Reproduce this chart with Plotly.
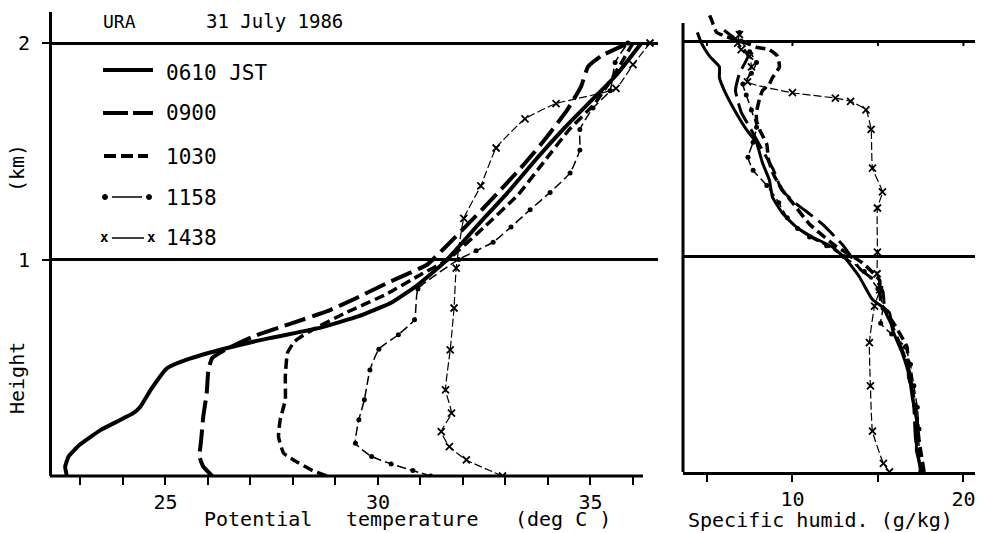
import plotly.graph_objects as go

W, H = 983, 533
FONT = "DejaVu Sans Mono"

# ---- Potential temperature (deg C) against height (km), URA 31 July 1986 ----
z_0610 = [0, 0.043, 0.09, 0.144, 0.213, 0.29, 0.32, 0.40, 0.498, 0.537, 0.59, 0.637,
          0.684, 0.738, 0.80, 0.877, 0.99, 1.17, 1.32, 1.47, 1.61, 1.75, 1.85, 2.0]
th_0610 = [22.68, 22.64, 22.72, 22.98, 23.48, 24.24, 24.41, 24.66, 25.04, 25.5, 26.43, 27.45,
           28.63, 29.55, 30.31, 30.9, 31.58, 32.4, 33.1, 33.75, 34.4, 35.1, 35.6, 36.2]

z_0900 = [0, 0.043, 0.09, 0.167, 0.275, 0.383, 0.49, 0.545, 0.586, 0.648, 0.704, 0.76,
          0.82, 0.90, 0.977, 1.06, 1.2, 1.335, 1.445, 1.56, 1.69, 1.80, 1.89, 1.94, 2.0]
th_0900 = [26.10, 25.89, 25.80, 25.84, 25.89, 25.97, 26.01, 26.10, 26.43, 27.11, 27.95, 28.79,
           29.47, 30.31, 31.16, 31.6, 32.3, 32.95, 33.46, 33.95, 34.45, 34.78, 34.94, 35.25, 35.9]

z_1030 = [0, 0.025, 0.062, 0.105, 0.182, 0.26, 0.352, 0.46, 0.568, 0.622, 0.676, 0.75,
          0.84, 0.93, 1.0, 1.15, 1.3, 1.45, 1.6, 1.72, 1.82, 1.9, 2.0]
th_1030 = [28.79, 28.46, 28.12, 27.78, 27.66, 27.70, 27.82, 27.82, 27.87, 28.04, 28.46, 29.2,
           30.2, 31.0, 31.65, 32.5, 33.3, 33.9, 34.5, 35.1, 35.45, 35.7, 36.0]

z_1158 = [0, 0.025, 0.056, 0.09, 0.151, 0.26, 0.352, 0.49, 0.586, 0.653, 0.722, 0.864,
          1.0, 1.04, 1.08, 1.15, 1.23, 1.31, 1.40, 1.506, 1.60, 1.70, 1.78, 1.91, 2.0]
th_1158 = [31.24, 30.82, 30.31, 29.85, 29.47, 29.55, 29.68, 29.81, 30.02, 30.48, 30.86, 30.94,
           31.9, 32.31, 32.71, 33.13, 33.58, 34.05, 34.52, 34.75, 34.75, 35.06, 35.46, 35.58, 35.88]

z_1438 = [0, 0.074, 0.136, 0.205, 0.29, 0.398, 0.583, 0.776, 0.96, 1.19, 1.34, 1.515,
          1.65, 1.72, 1.79, 1.9, 2.0]
th_1438 = [32.93, 32.08, 31.68, 31.49, 31.73, 31.59, 31.70, 31.79, 31.84, 32.02, 32.42, 32.78,
           33.46, 34.19, 35.6, 36.0, 36.4]

# ---- Specific humidity (g/kg) against height (km) ----
hq_0610 = [0, 0.10, 0.22, 0.35, 0.44, 0.55, 0.66, 0.74, 0.80, 0.905, 0.985, 1.044, 1.09,
           1.137, 1.20, 1.276, 1.355, 1.434, 1.527, 1.59, 1.68, 1.77, 1.83, 1.88, 1.93, 1.99, 2.04]
q_0610 = [17.6, 17.25, 17.3, 17.0, 16.84, 16.43, 15.85, 15.67, 14.68, 13.92, 13.16, 12.34, 11.17,
          10.23, 9.42, 8.83, 8.65, 8.25, 7.9, 7.3, 6.61, 6.02, 5.73, 5.73, 5.15, 4.68, 4.44]

hq_0900 = [0, 0.15, 0.3, 0.45, 0.55, 0.65, 0.75, 0.835, 0.88, 0.94, 1.05, 1.15, 1.21, 1.245,
           1.31, 1.4, 1.5, 1.6, 1.67, 1.77, 1.85, 1.93, 2.0, 2.05]
q_0900 = [17.5, 17.2, 17.1, 16.9, 16.5, 16.0, 15.4, 15.3, 14.97, 13.97, 12.98, 11.75, 10.8, 10.2,
          9.36, 8.9, 8.2, 7.5, 7.0, 6.67, 6.9, 7.4, 6.8, 6.0]

hq_1030 = [0, 0.15, 0.3, 0.38, 0.44, 0.52, 0.58, 0.68, 0.78, 0.845, 0.89, 0.97, 1.05, 1.15,
           1.25, 1.31, 1.38, 1.45, 1.52, 1.59, 1.63, 1.67, 1.73, 1.77, 1.80, 1.83, 1.88, 1.93,
           1.96, 1.97, 1.99, 2.02, 2.04, 2.1, 2.12]
q_1030 = [17.7, 17.4, 17.2, 17.0, 16.8, 16.75, 16.7, 16.0, 15.2, 15.1, 15.1, 14.1, 12.5, 11.0,
          10.0, 9.4, 8.9, 8.6, 8.5, 8.07, 7.9, 7.9, 8.07, 8.25, 8.65, 8.83, 9.24, 9.12,
          8.65, 7.96, 7.3, 6.14, 5.56, 5.26, 5.15]

hq_1158 = [0, 0.1, 0.2, 0.3, 0.4, 0.5, 0.58, 0.64, 0.69, 0.76, 0.85, 0.93, 1.0, 1.05, 1.09,
           1.13, 1.18, 1.25, 1.33, 1.40, 1.46, 1.53, 1.6, 1.68, 1.75, 1.8, 1.85, 1.9, 1.95, 2.0, 2.04]
q_1158 = [17.5, 17.4, 17.4, 17.3, 17.1, 16.9, 16.6, 15.8, 15.16, 15.3, 15.0, 14.2, 13.0, 12.0, 11.0,
          10.3, 9.7, 9.2, 8.5, 7.7, 7.4, 7.7, 7.9, 7.6, 7.3, 7.1, 7.6, 7.9, 7.5, 7.0, 6.9]

hq_1438 = [0, 0.04, 0.19, 0.40, 0.60, 0.77, 0.845, 0.92, 1.02, 1.225, 1.30, 1.41, 1.59, 1.68,
           1.72, 1.735, 1.76, 1.81, 1.88, 1.93, 1.96, 1.99, 2.03]
q_1438 = [15.67, 15.32, 14.68, 14.56, 14.5, 14.8, 15.1, 14.95, 14.97, 14.97, 15.26, 14.68, 14.6,
          14.3, 13.4, 12.51, 10.0, 7.37, 7.6, 7.49, 7.0, 6.8, 6.9]

theta_ticks = list(range(23, 37))
theta_labels = [str(t) if t % 5 == 0 else "" for t in theta_ticks]
q_ticks = [5, 10, 15, 20]
q_labels = ["", "10", "", "20"]
height_ticks = [1, 2]
height_labels = ["1", "2"]

times = ["0610 JST", "0900", "1030", "1158", "1438"]

# ---- pixel frame of the two panels ----
L_X0, L_X1 = 52, 658        # left panel plotting area (px)
L_Y0, L_Y1 = 476, 12        # bottom / top (px)
TH0, TH_PX = 22.33, 42.5    # theta at left edge, px per degree
KM_PX_L = 216.5
R_X0, R_X1 = 683, 975
R_Y0, R_Y1 = 472, 15
Q0, Q_PX = 3.6, 17.1
KM_PX_R = 215.5


def px(x):
    return x / W


def py(y):
    return 1 - y / H


line_styles = {
    "0610 JST": dict(width=4, dash="solid"),
    "0900": dict(width=4, dash="22px,7px"),
    "1030": dict(width=3.5, dash="10px,5px"),
    "1158": dict(width=1.5, dash="9px,4px"),
    "1438": dict(width=1.2, dash="8px,3px"),
}
marker_styles = {
    "1158": dict(symbol="circle", size=5, color="black"),
    "1438": dict(symbol="x-thin-open", size=7, line=dict(width=1.8, color="black")),
}

left_series = [(z_0610, th_0610), (z_0900, th_0900), (z_1030, th_1030),
               (z_1158, th_1158), (z_1438, th_1438)]
right_series = [(hq_0610, q_0610), (hq_0900, q_0900), (hq_1030, q_1030),
                (hq_1158, q_1158), (hq_1438, q_1438)]

fig = go.Figure()
for name, (zz, th) in zip(times, left_series):
    st = dict(line_styles[name])
    mode = "lines+markers" if name in marker_styles else "lines"
    fig.add_trace(go.Scatter(x=th, y=zz, mode=mode, name=name, showlegend=False,
                             line=dict(color="black", shape="spline", smoothing=0.4, **st),
                             marker=marker_styles.get(name), xaxis="x", yaxis="y"))
for name, (zz, qq) in zip(times, right_series):
    st = dict(line_styles[name])
    if name in ("0610 JST", "0900"):
        st["width"] = 3
    mode = "lines+markers" if name in marker_styles else "lines"
    fig.add_trace(go.Scatter(x=qq, y=zz, mode=mode, name=name, showlegend=False,
                             line=dict(color="black", shape="spline", smoothing=0.4, **st),
                             marker=marker_styles.get(name), xaxis="x2", yaxis="y2"))

shapes = []
# bottom axis of the temperature panel (stops short of the 1 / 2 km lines)
shapes.append(dict(type="line", xref="paper", yref="paper", x0=px(50), x1=px(643),
                   y0=py(L_Y0), y1=py(L_Y0), line=dict(color="black", width=3)))
# vertical axis of the humidity panel
shapes.append(dict(type="line", xref="paper", yref="paper", x0=px(R_X0), x1=px(R_X0),
                   y0=py(R_Y0), y1=py(23), line=dict(color="black", width=3)))
# small ticks hanging from the 2 km line of the humidity panel
for t in q_ticks:
    xp = R_X0 + (t - Q0) * Q_PX
    y2 = R_Y0 - 2 * KM_PX_R
    shapes.append(dict(type="line", xref="paper", yref="paper", x0=px(xp), x1=px(xp),
                       y0=py(y2), y1=py(y2 + 5), line=dict(color="black", width=2)))

# legend samples
LEG_X0, LEG_X1 = 103, 153
leg_y = [70, 113, 156, 197, 238]
shapes.append(dict(type="line", xref="paper", yref="paper", x0=px(LEG_X0), x1=px(LEG_X1),
                   y0=py(leg_y[0]), y1=py(leg_y[0]), line=dict(color="black", width=4)))
shapes.append(dict(type="line", xref="paper", yref="paper", x0=px(LEG_X0), x1=px(LEG_X1),
                   y0=py(leg_y[1]), y1=py(leg_y[1]),
                   line=dict(color="black", width=4, dash="25px,5px")))
shapes.append(dict(type="line", xref="paper", yref="paper", x0=px(104), x1=px(148),
                   y0=py(leg_y[2]), y1=py(leg_y[2]),
                   line=dict(color="black", width=4, dash="12px,5px")))
shapes.append(dict(type="line", xref="paper", yref="paper", x0=px(112), x1=px(142),
                   y0=py(leg_y[3]), y1=py(leg_y[3]), line=dict(color="black", width=1.5)))
for cx in (105, 149):
    shapes.append(dict(type="circle", xref="paper", yref="paper", x0=px(cx - 2.5), x1=px(cx + 2.5),
                       y0=py(leg_y[3] + 2.5), y1=py(leg_y[3] - 2.5),
                       fillcolor="black", line=dict(color="black", width=1)))
shapes.append(dict(type="line", xref="paper", yref="paper", x0=px(112), x1=px(144),
                   y0=py(leg_y[4]), y1=py(leg_y[4]), line=dict(color="black", width=1.5)))

annotations = []


def text(s, x, y, size=20, anchor="left", angle=0):
    annotations.append(dict(text=s, x=px(x), y=py(y), xref="paper", yref="paper",
                            xanchor=anchor, yanchor="middle", showarrow=False,
                            textangle=angle, font=dict(family=FONT, size=size, color="black")))


text("URA", 101, 21, size=18)
text("31 July 1986", 204, 21, size=19)
for name, yy in zip(times, [73, 113, 157, 198, 238]):
    text(name, 164, yy, size=21)
for cx in (104, 151):
    text("<b>x</b>", cx, leg_y[4] - 1, size=14, anchor="center")
text("(km)", 17, 168, size=20, anchor="center", angle=-90)
text("Height", 17, 378, size=20, anchor="center", angle=-90)
text("Potential", 202, 519)
text("temperature", 344, 519)
text("(deg C )", 513, 519)
text("Specific humid. (g/kg)", 686, 520)

fig.update_layout(
    width=W, height=H,
    margin=dict(l=0, r=0, t=0, b=0),
    paper_bgcolor="white", plot_bgcolor="white",
    font=dict(family=FONT, color="black", size=20),
    showlegend=False,
    shapes=shapes,
    annotations=annotations,
    xaxis=dict(domain=[px(L_X0), px(L_X1)],
               range=[TH0, TH0 + (L_X1 - L_X0) / TH_PX],
               tickvals=theta_ticks, ticktext=theta_labels,
               ticks="outside", ticklen=8, tickwidth=2, tickcolor="black",
               showline=False, showgrid=False, zeroline=False,
               tickfont=dict(family=FONT, size=20), anchor="y"),
    yaxis=dict(domain=[py(L_Y0), py(L_Y1)],
               range=[0, (L_Y0 - L_Y1) / KM_PX_L],
               tickvals=height_ticks, ticktext=height_labels,
               ticks="outside", ticklen=7, tickwidth=2, tickcolor="black",
               showline=True, linewidth=3, linecolor="black",
               showgrid=True, gridcolor="black", gridwidth=2.5, zeroline=False,
               ticklabelstandoff=8,
               tickfont=dict(family=FONT, size=20), anchor="x"),
    xaxis2=dict(domain=[px(R_X0), px(R_X1)],
                range=[Q0, Q0 + (R_X1 - R_X0) / Q_PX],
                tickvals=q_ticks, ticktext=q_labels,
                ticks="outside", ticklen=7, tickwidth=2, tickcolor="black",
                showline=True, linewidth=3, linecolor="black",
                showgrid=False, zeroline=False,
                tickfont=dict(family=FONT, size=20), anchor="y2"),
    yaxis2=dict(domain=[py(R_Y0), py(R_Y1)],
                range=[0, (R_Y0 - R_Y1) / KM_PX_R],
                tickvals=height_ticks, showticklabels=False, ticks="",
                showline=False, showgrid=True, gridcolor="black", gridwidth=2.5,
                zeroline=False, anchor="x2"),
)

fig.write_html("out.html")
